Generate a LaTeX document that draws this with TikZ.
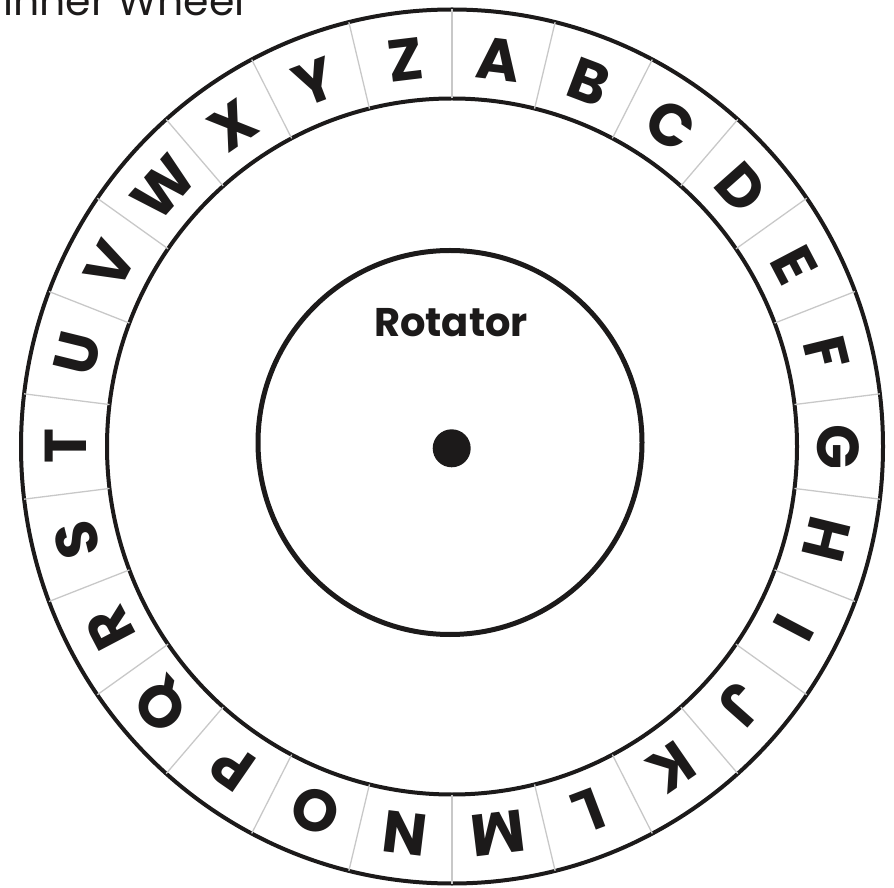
\documentclass[tikz,border=0pt]{standalone}
\usepackage{fontspec}
\setmainfont{Poppins}
\usetikzlibrary{calc}
\definecolor{ink}{HTML}{1C1A1A}
\definecolor{divgray}{HTML}{C8C8C8}
\begin{document}
\begin{tikzpicture}[x=1pt,y=1pt,
  ring/.style={line width=4pt, draw=ink},
  divider/.style={line width=1.3pt, draw=divgray},
  letter/.style={font=\fontsize{59}{59}\selectfont\bfseries, text=ink, inner sep=0pt, anchor=center},
  titletext/.style={font=\fontsize{41}{41}\selectfont, text=ink, inner sep=0pt, anchor=base west},
  rotlabel/.style={font=\fontsize{40}{40}\selectfont\bfseries, text=ink, inner sep=0pt, anchor=base}]
\useasboundingbox (0,0) rectangle (894,887);
\coordinate (C) at (452,440.5);
% rings
\draw[ring] (C) ellipse [x radius=431, y radius=437];
\draw[ring] (C) ellipse [x radius=345, y radius=348];
% dividers
\foreach \k in {0,...,25} {
  \pgfmathsetmacro\a{90-\k*360/26}
  \coordinate (din\k) at ($(C)+({345*cos(\a)},{348*sin(\a)})$);
  \coordinate (dout\k) at ($(C)+({431*cos(\a)},{437*sin(\a)})$);
  \draw[divider] (din\k) -- (dout\k);
}
% letters
\foreach \L [count=\i from 0] in {A,...,Z} {
  \pgfmathsetmacro\a{90-180/26-\i*360/26}
  \node[letter, rotate={\a-90}] (L\L) at ($(C)+({386*cos(\a)},{390*sin(\a)})$) {\L};
}
% rotator
\coordinate (R) at (450,444.5);
\draw[line width=5pt, draw=ink] (R) circle [radius=192];
\fill[ink] (451.7,438.7) circle [radius=19];
\node[rotlabel] (rot) at (451,550) {Rotator};
% title
\node[titletext] (title) at (3,871.5) {Inner Wheel};
\end{tikzpicture}
\end{document}
